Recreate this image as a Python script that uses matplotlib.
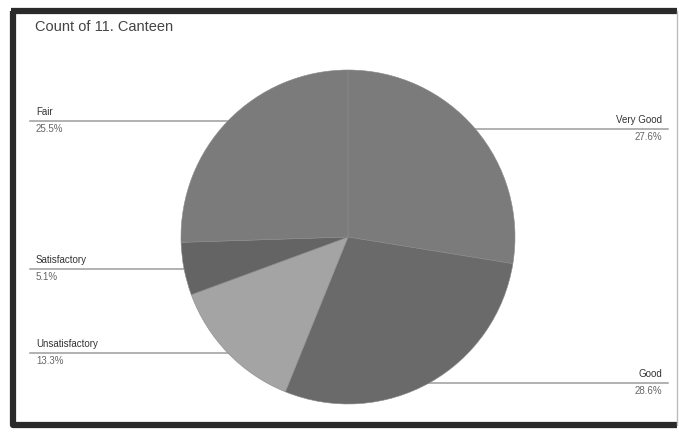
import numpy as np
import matplotlib.pyplot as plt

plt.rcParams['font.family'] = ['Liberation Sans', 'DejaVu Sans']

# slices in drawing order (clockwise from 12 o'clock)
categories = ['Very Good', 'Good', 'Unsatisfactory', 'Satisfactory', 'Fair']
counts = [27, 28, 13, 5, 25]
colors = ['#7b7b7b', '#6a6a6a', '#a4a4a4', '#646464', '#7b7b7b']
title = 'Count of 11. Canteen'

W, H = 679, 433
fig = plt.figure(figsize=(W / 100, H / 100), dpi=100)
ax = fig.add_axes([0, 0, 1, 1])

cx, cy, r = 348, 196, 167
wedges, _ = ax.pie(counts, colors=colors, startangle=90, counterclock=False,
                   center=(cx, cy), radius=r, frame=True,
                   wedgeprops=dict(edgecolor='#8a8a8a', linewidth=0.4))
ax.set_xlim(0, W)
ax.set_ylim(0, H)
ax.set_aspect('equal')
ax.axis('off')

# frame of the screenshot: heavy top/left/bottom, thin grey right edge
ax.plot([13, 13, 677], [H - 11, 8, 8], color='#2a2a2a', lw=4.5, solid_capstyle='butt')
ax.plot([11, 677], [H - 11, H - 11], color='#2a2a2a', lw=4.5, solid_capstyle='butt')
ax.plot([677, 677], [8, H - 11], color='#bdbdbd', lw=1)

total = sum(counts)
for w, name, c in zip(wedges, categories, counts):
    mid = np.deg2rad((w.theta1 + w.theta2) / 2)
    ex = cx + r * np.cos(mid)
    ey = cy + r * np.sin(mid)
    pct = f'{100 * c / total:.1f}%'
    if np.cos(mid) >= 0:
        x0, x1, ha, tx = ex - 8, 668, 'right', 662
    else:
        x0, x1, ha, tx = 30, ex + 8, 'left', 36
    ax.plot([x0, x1], [ey, ey], color='#9c9c9c', lw=1.1, zorder=0)
    ax.text(tx, ey + 4, name, ha=ha, va='bottom', fontsize=7, color='#333333')
    ax.text(tx, ey - 3, pct, ha=ha, va='top', fontsize=7, color='#666666')

ax.text(35, H - 27, title, ha='left', va='center', fontsize=10.5, color='#444444')

fig.savefig('out.png', dpi=100, facecolor='white')
